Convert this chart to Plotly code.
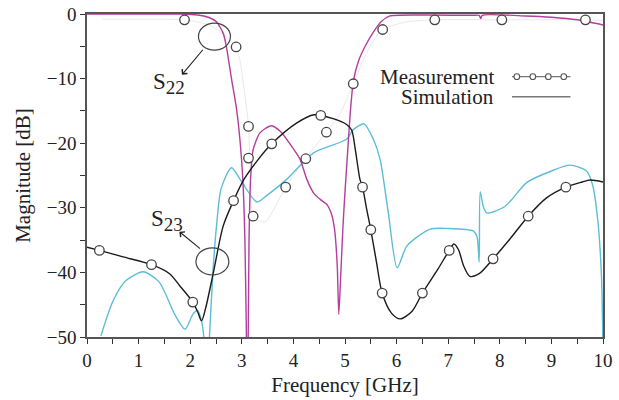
import plotly.graph_objects as go

# ---------------- data ----------------
# S22 simulation (magenta)
s22_sim_f = [0, 1.0, 1.8, 2.15, 2.35, 2.51, 2.64, 2.7, 2.8, 2.9, 2.97, 3.02, 3.06, 3.09, 3.11,
             3.14, 3.17, 3.22, 3.35, 3.57, 3.75, 3.95, 4.13, 4.26, 4.4, 4.52, 4.65, 4.74, 4.8,
             4.85, 4.88, 4.92, 4.96, 5.0, 5.05, 5.1, 5.16, 5.26, 5.39, 5.55, 5.7, 5.87, 6.5,
             7.5, 7.6, 7.63, 7.66, 8.5, 9.0, 9.5, 10.0]
s22_sim_db = [0, 0, -0.02, -0.15, -0.5, -1.2, -3.0, -5.0, -10.0, -14.8, -20.0, -25.6, -35, -50, -62,
              -35, -25.6, -21.0, -18.4, -17.3, -18.2, -20.3, -22.5, -25.6, -27.8, -28.7, -29.5, -31.0, -33.5,
              -39, -46.5, -40, -33, -27.5, -21.5, -15.5, -10.5, -7.3, -5.0, -2.8, -1.2, -0.3, -0.15,
              -0.2, -0.2, -0.7, -0.2, -0.3, -0.5, -0.9, -1.7]

# S22 measurement (faint line and its markers)
s22_meas_f = [0.3, 1.0, 1.89, 2.4, 2.89, 3.05, 3.13, 3.17, 3.22, 3.45, 3.85, 4.24, 4.64, 4.9,
              5.16, 5.45, 5.73, 6.2, 6.74, 8.04, 9.66, 10.0]
s22_meas_db = [-0.8, -0.8, -0.9, -1.8, -5.1, -12.0, -17.4, -26.0, -31.3, -32.2, -26.8, -22.4, -18.3, -15.5,
               -10.8, -5.5, -2.4, -1.2, -0.9, -0.9, -0.9, -1.0]
s22_mark_f = [1.89, 2.89, 3.13, 3.13, 3.22, 3.85, 4.24, 4.64, 5.16, 5.73, 6.74, 8.04, 9.66]
s22_mark_db = [-0.9, -5.1, -17.4, -22.3, -31.3, -26.8, -22.4, -18.3, -10.8, -2.4, -0.9, -0.9, -0.9]

# S23 simulation (black)
s23_sim_f = [0, 0.24, 0.7, 1.25, 1.6, 1.8, 2.05, 2.15, 2.22, 2.3, 2.45, 2.64, 2.84, 3.05, 3.32, 3.58,
             4.06, 4.4, 4.77, 5.03, 5.13, 5.2, 5.29, 5.34, 5.42, 5.5, 5.61, 5.72, 5.9, 6.07, 6.3,
             6.5, 6.8, 7.02, 7.11, 7.2, 7.3, 7.42, 7.6, 7.87, 8.2, 8.55, 8.9, 9.28, 9.6, 9.75, 10.0]
s23_sim_db = [-36.1, -36.6, -37.6, -38.8, -40.2, -42.1, -44.6, -46.2, -47.5, -45.5, -40.0, -32.8, -28.9,
              -25.5, -22.5, -20.1, -16.9, -15.6, -16.2, -17.1, -18.0, -21.0, -25.6, -26.8, -30.2, -33.4,
              -38.4, -43.2, -46.3, -47.2, -46.0, -43.2, -39.5, -36.6, -35.6, -36.5, -39.0, -40.6, -40.2,
              -37.9, -34.8, -31.3, -28.5, -26.8, -26.0, -25.7, -26.0]
s23_mark_f = [0.24, 1.25, 2.05, 2.84, 3.58, 4.53, 5.34, 5.50, 5.72, 6.50, 7.02, 7.87, 8.55, 9.28]
s23_mark_db = [-36.6, -38.8, -44.6, -28.9, -20.1, -15.7, -26.8, -33.4, -43.2, -43.2, -36.6, -37.9, -31.3, -26.8]

# third simulated response (cyan)
s33_sim_f = [0.27, 0.5, 0.75, 1.09, 1.4, 1.7, 1.9, 2.05, 2.14, 2.22, 2.27, 2.32, 2.37, 2.44, 2.51, 2.6,
             2.8, 3.0, 3.29, 3.5, 3.87, 4.39, 5.03, 5.16, 5.37, 5.55, 5.68, 5.84, 6.01, 6.2, 6.65,
             7.0, 7.49, 7.56, 7.6, 7.62, 7.68, 7.75, 8.1, 8.52, 9.0, 9.36, 9.68, 9.8, 9.9, 9.97, 10.0]
s33_sim_db = [-49.8, -44.5, -41.3, -39.9, -41.5, -46.5, -48.8, -46.5, -45.9, -47.5, -50.5, -58, -50.5,
              -40.0, -32.8, -27.0, -23.8, -26.0, -29.1, -28.0, -25.6, -21.5, -19.4, -17.9, -17.0, -19.4,
              -22.5, -30.8, -39.3, -35.9, -33.3, -33.2, -33.6, -34.5, -38.4, -27.5, -29.8, -30.8, -29.8,
              -26.1, -24.3, -23.4, -24.3, -26.5, -32.0, -40.5, -52]

x_ticks = [0, 1, 2, 3, 4, 5, 6, 7, 8, 9, 10]
y_ticks = [0, -10, -20, -30, -40, -50]

# annotation anchors (data coordinates)
s22_label = (1.59, -10.8)
s22_arrow_tail = (2.27, -5.3)
s22_arrow_head = (1.84, -9.4)
s22_ellipse = (2.16, 2.78, -5.6, -1.4)
s23_label = (1.55, -32.0)
s23_arrow_tail = (2.22, -36.5)
s23_arrow_head = (1.79, -33.7)
s23_ellipse = (2.11, 2.75, -40.4, -36.2)

MAGENTA = "#b53d9c"
CYAN = "#5cbdd6"
BLACK = "#1a1a1a"
FONT = "Liberation Serif"

fig = go.Figure()
fig.add_trace(go.Scatter(x=s22_meas_f, y=s22_meas_db, mode="lines",
                         line=dict(color="#e8e8e8", width=1, shape="spline", smoothing=0.6),
                         showlegend=False, hoverinfo="skip"))
fig.add_trace(go.Scatter(x=s33_sim_f, y=s33_sim_db, mode="lines",
                         line=dict(color=CYAN, width=1.4, shape="spline", smoothing=0.7),
                         showlegend=False))
fig.add_trace(go.Scatter(x=s22_sim_f, y=s22_sim_db, mode="lines",
                         line=dict(color=MAGENTA, width=1.4, shape="spline", smoothing=0.6),
                         showlegend=False))
fig.add_trace(go.Scatter(x=s23_sim_f, y=s23_sim_db, mode="lines",
                         line=dict(color=BLACK, width=1.4, shape="spline", smoothing=0.8),
                         showlegend=False))
marker_style = dict(symbol="circle", size=9.5, color="white", line=dict(color="#444444", width=1.3))
fig.add_trace(go.Scatter(x=s22_mark_f, y=s22_mark_db, mode="markers", marker=marker_style,
                         showlegend=False))
fig.add_trace(go.Scatter(x=s23_mark_f, y=s23_mark_db, mode="markers", marker=marker_style,
                         showlegend=False))

# ellipses
for (x0, x1, y0, y1) in (s22_ellipse, s23_ellipse):
    fig.add_shape(type="circle", xref="x", yref="y", x0=x0, x1=x1, y0=y0, y1=y1,
                  line=dict(color="#444444", width=1.2))

# arrows and labels
for tail, head in ((s22_arrow_tail, s22_arrow_head), (s23_arrow_tail, s23_arrow_head)):
    fig.add_annotation(x=head[0], y=head[1], ax=tail[0], ay=tail[1], axref="x", ayref="y",
                       xref="x", yref="y", text="", showarrow=True, arrowhead=4, arrowsize=1.2,
                       arrowwidth=1.1, arrowcolor="#222222")
sub_fmt = "S<sub><span style='font-size:19px'>{}</span></sub>"
for pos, num in ((s22_label, "22"), (s23_label, "23")):
    fig.add_annotation(x=pos[0], y=pos[1], xref="x", yref="y", text=sub_fmt.format(num),
                       showarrow=False, font=dict(family=FONT, size=23, color="#222222"))

# custom legend (text on the left, sample on the right)
leg_text_x = 0.7926
leg_rows = [("Measurement", 0.806, True), ("Simulation", 0.744, False)]
for label, yp, with_markers in leg_rows:
    fig.add_annotation(x=leg_text_x, y=yp, xref="paper", yref="paper", text=label,
                       showarrow=False, xanchor="right", yanchor="middle",
                       font=dict(family=FONT, size=21, color="#222222"))
    fig.add_shape(type="line", xref="paper", yref="paper", x0=0.8236, x1=0.937, y0=yp, y1=yp,
                  line=dict(color="#777777", width=1.4))
    if with_markers:
        for xp in (0.833, 0.864, 0.894, 0.924):
            fig.add_shape(type="circle", xref="paper", yref="paper",
                          x0=xp - 0.0055, x1=xp + 0.0055, y0=yp - 0.0088, y1=yp + 0.0088,
                          line=dict(color="#555555", width=1.1), fillcolor="white")

axis_common = dict(showline=True, mirror=True, linecolor="#555555", linewidth=1.5,
                   ticks="outside", ticklen=5, tickcolor="#333333", tickwidth=1,
                   showgrid=False, zeroline=False, automargin=False,
                   tickfont=dict(family=FONT, size=19, color="#222222"))

fig.update_layout(
    width=619, height=400, autosize=False,
    margin=dict(l=87, r=16, t=14, b=63, autoexpand=False),
    paper_bgcolor="white", plot_bgcolor="white",
    xaxis=dict(range=[0, 10], tickvals=x_ticks,
               minor=dict(dtick=0.5, ticks="outside", ticklen=5, tickcolor="#333333"),
               title=dict(text="Frequency [GHz]", font=dict(family=FONT, size=21, color="#222222"),
                          standoff=8),
               **axis_common),
    yaxis=dict(range=[-50, 0], tickvals=y_ticks,
               minor=dict(dtick=5, ticks="outside", ticklen=5, tickcolor="#333333"),
               title=dict(text="Magnitude [dB]", font=dict(family=FONT, size=21, color="#222222"),
                          standoff=10),
               **axis_common),
)

fig.write_html("out.html")
